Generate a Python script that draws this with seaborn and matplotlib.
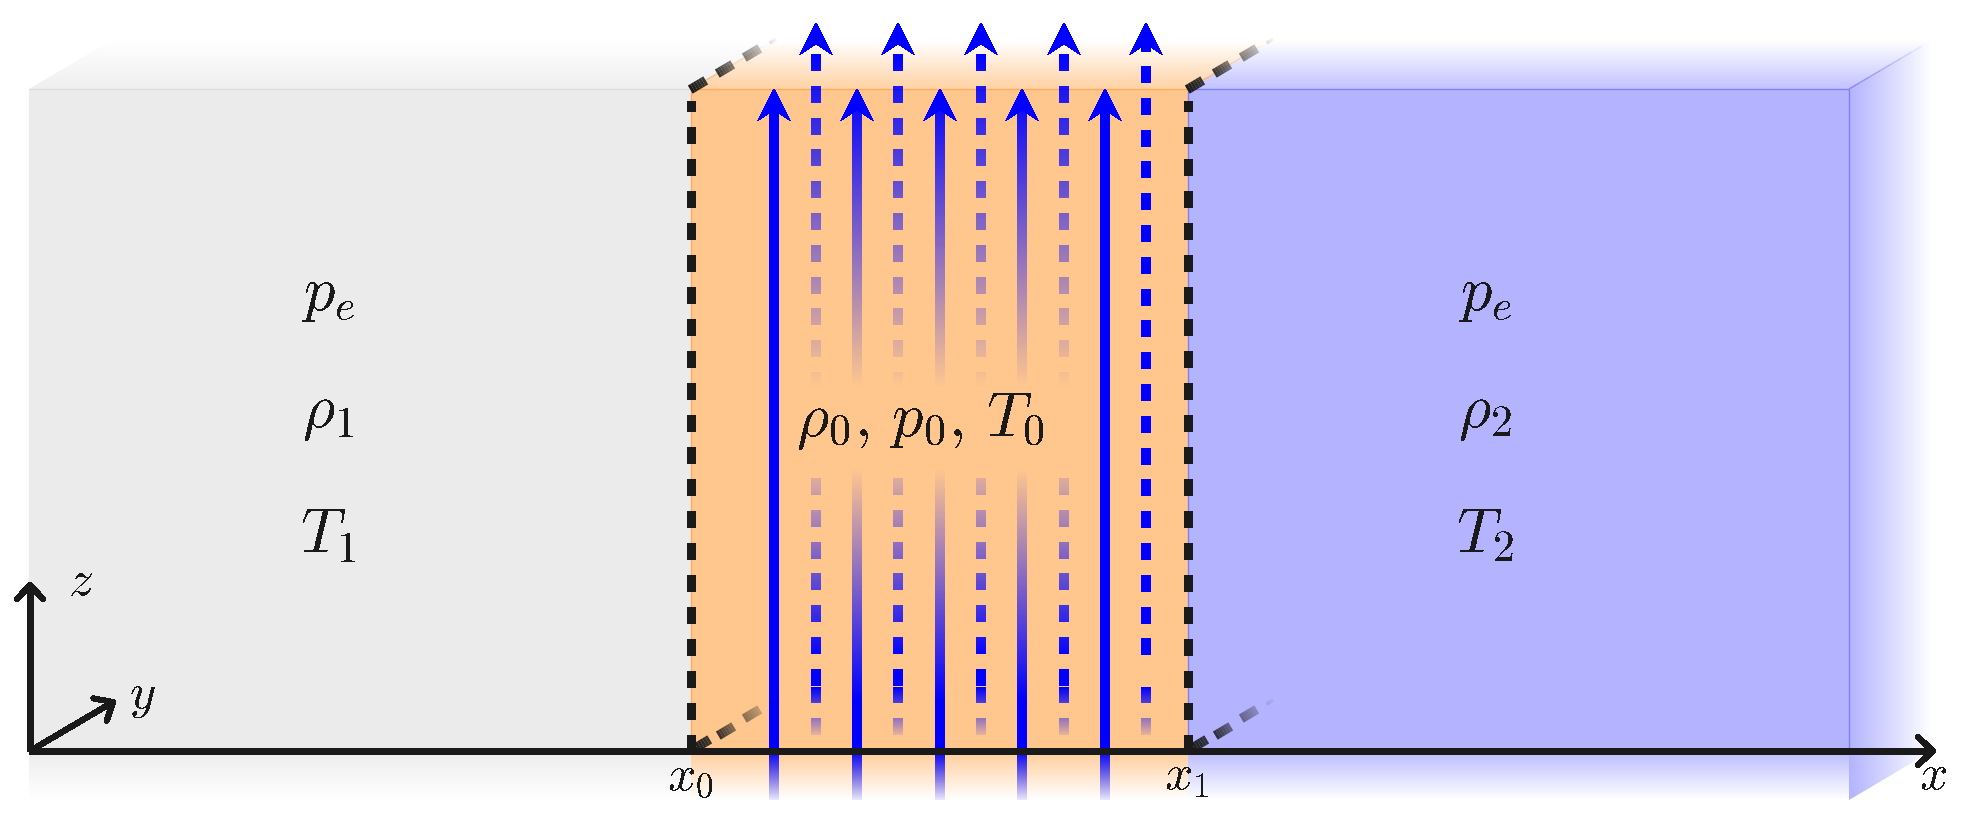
import matplotlib
matplotlib.use('Agg')
import matplotlib.pyplot as plt
import seaborn as sns
import numpy as np
from matplotlib.colors import to_rgb
from matplotlib.patches import Polygon

sns.set_theme(style='white')
plt.rcParams['mathtext.fontset'] = 'cm'
plt.rcParams['text.antialiased'] = False

# picture is a schematic, the scale is simply the pixel grid of the reference
x_edges = [29, 691, 1188, 1849]
y_top, y_axis, y_bottom, y_back = 89, 751, 800, 40
depth = [83, -49]
face_colors = ['#ebebeb', '#ffc78e', '#b3b3ff']
edge_colors = ['#dcdcdc', '#ffab5c', '#8080ff']

solid_x = [774, 857, 940, 1022, 1105]
solid_fades = [False, True, True, True, False]
dashed_x = [816, 898, 981, 1064, 1146]
dashed_fades = [True, True, True, True, False]
dashed_tops = [54, 54, 54, 54, 66]

labels_left = [r'$p_e$', r'$\rho_1$', r'$T_1$']
labels_right = [r'$p_e$', r'$\rho_2$', r'$T_2$']
labels_y = [294, 413, 535]
label_left_x = 328
label_right_x = 1485
middle_label = r'$\rho_0,\,p_0,\,T_0$'
middle_pos = (921, 421)

diag_top = [(698, 85), (725, 69), (752, 53), (773, 41)]
diag_bottom = [(702, 744), (726, 731), (752, 714), (773, 702)]
diag_alpha = [(1.0, 0.85), (0.85, 0.55), (0.5, 0.28), (0.12, 0.04)]

fig = plt.figure(figsize=(19.61, 8.23), dpi=100)
ax = fig.add_axes([0, 0, 1, 1])


def fade(x0, x1, y0, y1, color, pos, alpha, vertical=True, clip=None, z=1):
    r, g, b = to_rgb(color)
    if vertical:
        n = max(int(round(y1 - y0)), 1)
        a = np.interp(np.linspace(y0, y1, n), pos, alpha)
        rgba = np.zeros((n, 1, 4))
        rgba[:, 0, :3] = r, g, b
        rgba[:, 0, 3] = a
    else:
        n = max(int(round(x1 - x0)), 1)
        a = np.interp(np.linspace(x0, x1, n), pos, alpha)
        rgba = np.zeros((1, n, 4))
        rgba[0, :, :3] = r, g, b
        rgba[0, :, 3] = a
    im = ax.imshow(rgba, extent=(x0, x1, y1, y0), origin='upper', aspect='auto',
                   interpolation='nearest', zorder=z)
    if clip is not None:
        im.set_clip_path(Polygon(clip, transform=ax.transData))
    return im


def line(xs, ys, color='k', lw=3.7, z=5, alpha=1.0, cap='butt', crisp=False, **kw):
    l = sns.lineplot(x=xs, y=ys, sort=False, estimator=None, errorbar=None, ax=ax,
                     color=color, lw=lw, alpha=alpha, zorder=z, legend=False, **kw)
    ln = l.get_lines()[-1]
    ln.set_solid_capstyle(cap)
    ln.set_dash_capstyle('butt')
    ln.set_antialiased(not crisp)
    return ln


def open_arrow(x0, y0, x1, y1, barb=(15, 13)):
    line([x0, x1], [y0, y1], crisp=True)
    d = np.array([x1 - x0, y1 - y0], float)
    d = d / np.hypot(*d)
    n = np.array([-d[1], d[0]])
    tip = np.array([x1, y1], float)
    a = tip - barb[0] * d + barb[1] * n
    b = tip - barb[0] * d - barb[1] * n
    line([a[0], tip[0], b[0]], [a[1], tip[1], b[1]], cap='round', crisp=True)


def blue_head(x, tip):
    ax.add_patch(Polygon([(x, tip), (x + 16.5, tip + 32), (x, tip + 21), (x - 16.5, tip + 32)],
                         closed=True, fc='#0000ff', ec='none', zorder=5, antialiased=False))


# faces
for i in range(3):
    ax.fill_between([x_edges[i], x_edges[i + 1]], y_top, y_axis, color=face_colors[i], lw=0, zorder=1)
    fade(x_edges[i], x_edges[i + 1], y_axis, y_bottom, face_colors[i],
         [y_axis, y_bottom], [0.9, 0.0])

# top faces are sheared, each is clipped to its own outline
for i in range(3):
    left, right = x_edges[i], x_edges[i + 1]
    top_clip = [(left, y_top), (left + depth[0], y_back), (right + depth[0], y_back), (right, y_top)]
    fade(left, right + depth[0], y_back, y_top, face_colors[i], [y_back, y_top], [0.0, 0.8], clip=top_clip)
side_clip = [(x_edges[3], y_top), (x_edges[3] + depth[0], y_back), (x_edges[3] + depth[0], y_axis), (x_edges[3], y_bottom)]
fade(x_edges[3], x_edges[3] + depth[0], y_back, y_bottom, face_colors[2],
     [x_edges[3], x_edges[3] + depth[0]], [1.0, 0.0], vertical=False, clip=side_clip)

# thin edges of the faces
for i in range(3):
    line([x_edges[i], x_edges[i + 1]], [y_top, y_top], color=edge_colors[i], lw=1, z=2)
line([x_edges[3], x_edges[3]], [y_top, y_axis], color=edge_colors[2], lw=1, z=2)
line([x_edges[1], x_edges[1]], [y_top, y_axis], color=edge_colors[1], lw=1, z=2)
line([x_edges[2], x_edges[2]], [y_top, y_axis], color=edge_colors[2], lw=1, z=2)
for k in range(8):
    t0, t1 = k / 8, (k + 1) / 8
    for xe, col in [(x_edges[1], edge_colors[1]), (x_edges[2], edge_colors[1]), (x_edges[3], edge_colors[2])]:
        line([xe + t0 * depth[0], xe + t1 * depth[0]], [y_top + t0 * depth[1], y_top + t1 * depth[1]],
             color=col, lw=1, z=2, alpha=1 - t1)

# blue solid arrows, the shaft starts inside the head
half_w = 4.8
for x, fades in zip(solid_x, solid_fades):
    if fades:
        fade(x - half_w, x + half_w, 106, 388, '#0000ff', [89, 388], [1, 0], z=4)
        fade(x - half_w, x + half_w, 468, y_bottom, '#0000ff', [468, 700, y_axis, y_bottom], [0, 1, 1, 0.1], z=4)
    else:
        fade(x - half_w, x + half_w, 106, y_bottom, '#0000ff', [106, y_axis, y_bottom], [1, 1, 0.1], z=4)
    blue_head(x, y_top)

# blue dashed arrows, every dash is its own piece because of the fading
dash_len, dash_period = 17, 31.8
lower_dashes = [478 + dash_period * k for k in range(6)] + [669]
for x, fades, start in zip(dashed_x, dashed_fades, dashed_tops):
    if fades:
        for k in range(11):
            y0 = start + dash_period * k
            fade(x - half_w, x + half_w, y0, y0 + dash_len, '#0000ff', [54, 388], [1, 0], z=4)
        for y0 in lower_dashes:
            fade(x - half_w, x + half_w, y0, y0 + dash_len, '#0000ff', [450, 660], [0, 1], z=4)
    else:
        fade(x - half_w, x + half_w, 42, 52, '#0000ff', [42, 52], [1, 1], z=4)
        for k in range(19):
            y0 = start + dash_period * k
            fade(x - half_w, x + half_w, y0, y0 + dash_len, '#0000ff', [0, 1], [1, 1], z=4)
    fade(x - half_w, x + half_w, 687, 703, '#0000ff', [687, 738], [1, 0.05], z=4)
    fade(x - half_w, x + half_w, 718, 735, '#0000ff', [687, 738], [1, 0.05], z=4)
    blue_head(x, 23)

# black dashed boundaries
for xe in x_edges[1:3]:
    line([xe, xe], [y_axis, 101], lw=6.6, z=5, crisp=True, linestyle=(0, (1.8, 1.66)))

# sloped dashes get darker towards the front, each one split in a few pieces
u = np.array([27, -16.0])
u = u / np.hypot(*u)
for shift in [0, x_edges[2] - x_edges[1]]:
    for centers in [diag_top, diag_bottom]:
        for (cx, cy), (a0, a1) in zip(centers, diag_alpha):
            half = 9 if a0 > 0.2 else 4
            wid = 6.8 if a0 > 0.2 else 2.5
            steps = np.linspace(-half, half, 7)
            for j in range(6):
                s0, s1 = steps[j], steps[j + 1]
                line([cx + shift + s0 * u[0], cx + shift + s1 * u[0]],
                     [cy + s0 * u[1], cy + s1 * u[1]],
                     lw=wid, alpha=a0 + (a1 - a0) * j / 5, z=5)

# coordinate arrows
open_arrow(29, y_axis, 1933, y_axis, barb=(15, 14))
open_arrow(30, y_axis, 30, 585, barb=(14, 13))
open_arrow(30, y_axis, 113, 702, barb=(15, 13))

# labels
for txt, y in zip(labels_left, labels_y):
    ax.text(label_left_x, y, txt, fontsize=45, ha='center', va='center', color='k', zorder=6)
for txt, y in zip(labels_right, labels_y):
    ax.text(label_right_x, y, txt, fontsize=45, ha='center', va='center', color='k', zorder=6)
ax.text(middle_pos[0], middle_pos[1], middle_label, fontsize=45, ha='center', va='center', color='k', zorder=6)
ax.text(690, 776, r'$x_0$', fontsize=36, ha='center', va='center', color='k', zorder=6)
ax.text(1187, 776, r'$x_1$', fontsize=36, ha='center', va='center', color='k', zorder=6)
ax.text(1933, 775, r'$x$', fontsize=36, ha='center', va='center', color='k', zorder=6)
ax.text(81, 581, r'$z$', fontsize=36, ha='center', va='center', color='k', zorder=6)
ax.text(142, 696, r'$y$', fontsize=36, ha='center', va='center', color='k', zorder=6)

ax.set_xlim(0, 1961)
ax.set_ylim(823, 0)
ax.axis('off')
fig.savefig('out.png', dpi=100)
